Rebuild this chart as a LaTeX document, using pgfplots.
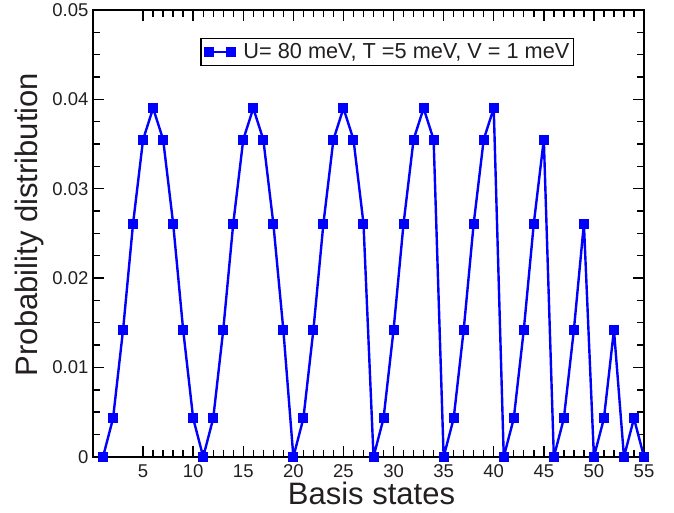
\documentclass[border=0pt]{standalone}
\usepackage{pgfplots}
\pgfplotsset{compat=1.18}
\usepackage{fontspec}
\setmainfont{Liberation Sans}
\definecolor{pblue}{RGB}{0,0,255}
\definecolor{tgray}{RGB}{35,31,32}
\begin{document}
\begin{tikzpicture}
\begin{axis}[name=ax, scale only axis, width=551pt, height=447pt,
 xmin=0, xmax=55, ymin=0, ymax=0.05,
 xtick={5,10,15,20,25,30,35,40,45,50,55}, minor x tick num=4,
 ytick={0,0.01,0.02,0.03,0.04,0.05}, minor y tick num=3,
 yticklabels={0,0.01,0.02,0.03,0.04,0.05},
 scaled y ticks=false,
 tick align=inside,
 major tick length=11pt, minor tick length=7pt,
 axis line style={line width=2.2pt},
 every tick/.style={black, line width=1.4pt},
 tick label style={font=\fontsize{18.5}{20}\selectfont, text=tgray},
 /pgf/number format/assume math mode=true,
 xticklabel style={yshift=-4pt},
 yticklabel style={xshift=-1pt},
 xlabel={Basis states}, ylabel={Probability distribution},
 xlabel style={at={(axis cs:27.8,-0.0041)}, anchor=center},
 ylabel style={at={(axis cs:-6.34,0.026)}, anchor=center},
 label style={font=\fontsize{31}{33}\selectfont, text=tgray},
 clip=false,
 legend style={at={(0.534,0.937)}, anchor=north, draw=black, line width=1.3pt,
   font=\fontsize{21.7}{23}\selectfont, inner xsep=2pt, inner ysep=3pt, text=tgray},
 legend image code/.code={\draw[#1] plot coordinates {(4.5pt,0pt) (26.5pt,0pt)}; \path (0pt,0pt) (36pt,0pt);},
]
\addplot[pblue, line width=2.4pt, line join=round, mark=square*, mark size=4.5pt, mark options={solid, fill=pblue, draw=pblue, line width=0pt}] coordinates {
(1,0) (2,0.0043) (3,0.0142) (4,0.0261) (5,0.0355) (6,0.0390) (7,0.0355) (8,0.0261) (9,0.0142) (10,0.0043)
(11,0) (12,0.0043) (13,0.0142) (14,0.0261) (15,0.0355) (16,0.0390) (17,0.0355) (18,0.0261) (19,0.0142)
(20,0) (21,0.0043) (22,0.0142) (23,0.0261) (24,0.0355) (25,0.0390) (26,0.0355) (27,0.0261)
(28,0) (29,0.0043) (30,0.0142) (31,0.0261) (32,0.0355) (33,0.0390) (34,0.0355)
(35,0) (36,0.0043) (37,0.0142) (38,0.0261) (39,0.0355) (40,0.0390)
(41,0) (42,0.0043) (43,0.0142) (44,0.0261) (45,0.0355)
(46,0) (47,0.0043) (48,0.0142) (49,0.0261)
(50,0) (51,0.0043) (52,0.0142)
(53,0) (54,0.0043) (55,0)
};
\addlegendentry{U= 80 meV, T =5 meV, V = 1 meV}
\end{axis}
\path (ax.south west) ++(-93pt,-56pt) coordinate (bl);
\path (ax.north east) ++(30pt,5pt) coordinate (tr);
\path (bl) rectangle (tr);
\end{tikzpicture}
\end{document}
